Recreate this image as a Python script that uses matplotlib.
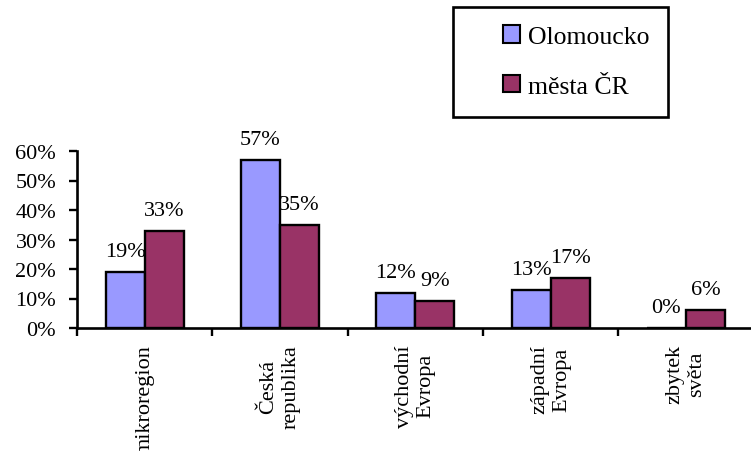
import matplotlib
matplotlib.use('Agg')
import matplotlib.pyplot as plt
from matplotlib.patches import Patch, Rectangle

plt.rcParams['font.family'] = ['Liberation Serif', 'DejaVu Serif']

# data (percent)
categories = ['mikroregion', 'Česká\nrepublika', 'východní\nEvropa',
              'západní\nEvropa', 'zbytek\nsvěta']
olomoucko = [19, 57, 12, 13, 0]
mesta_cr = [33, 35, 9, 17, 6]
series_names = ['Olomoucko', 'města ČR']
series_colors = ['#9999FF', '#993366']
y_ticks = [0, 10, 20, 30, 40, 50, 60]

W, H = 751, 452
fig = plt.figure(figsize=(W / 100, H / 100), dpi=100)
ax = fig.add_axes([77 / W, 123 / H, 676.5 / W, 177 / H])

centers = [i + 0.5 for i in range(len(categories))]
bw = 0.288
for k, (vals, col) in enumerate(zip([olomoucko, mesta_cr], series_colors)):
    xs = [c + (k - 0.5) * bw for c in centers]
    ax.bar(xs, vals, width=bw, color=col, edgecolor='black', linewidth=1.7,
           zorder=3)
    for x, v in zip(xs, vals):
        ax.annotate(f'{v}%', (x, v), xytext=(0, 11), textcoords='offset pixels',
                    ha='center', va='bottom', fontsize=16, zorder=2,
                    annotation_clip=False)

ax.set_xlim(0, len(categories))
ax.set_ylim(0, 60)
ax.set_yticks(y_ticks)
ax.set_yticklabels([f'{v}%' for v in y_ticks], fontsize=16)

ax.set_xticks(range(len(categories) + 1))
ax.set_xticklabels([])
ax.set_xticks(centers, minor=True)
ax.set_xticklabels(categories, minor=True, rotation=90, va='top', ha='center',
                   multialignment='center', fontsize=16)
ax.tick_params(axis='x', which='minor', length=0, pad=11.5)
ax.tick_params(axis='x', which='major', length=6, width=1.7, direction='out')
ax.tick_params(axis='y', length=6, width=1.7, direction='out', pad=9)

for s in ['top', 'right']:
    ax.spines[s].set_visible(False)
for s in ['left', 'bottom']:
    ax.spines[s].set_linewidth(1.9)

# legend box
fig.patches.append(Rectangle((453 / W, 1 - 118 / H), 215 / W, 110 / H,
                             transform=fig.transFigure, fill=False,
                             edgecolor='black', linewidth=1.9))
handles = [Patch(facecolor=c, edgecolor='black', linewidth=1.5, label=n)
           for c, n in zip(series_colors, series_names)]
fig.legend(handles=handles, loc='center left',
           bbox_to_anchor=(503 / W, 1 - 62.5 / H), frameon=False,
           fontsize=18.5, borderpad=0, borderaxespad=0,
           handlelength=0.66, handleheight=0.66, handletextpad=0.3,
           labelspacing=1.05)

fig.savefig('out.png', dpi=100, facecolor='white')
